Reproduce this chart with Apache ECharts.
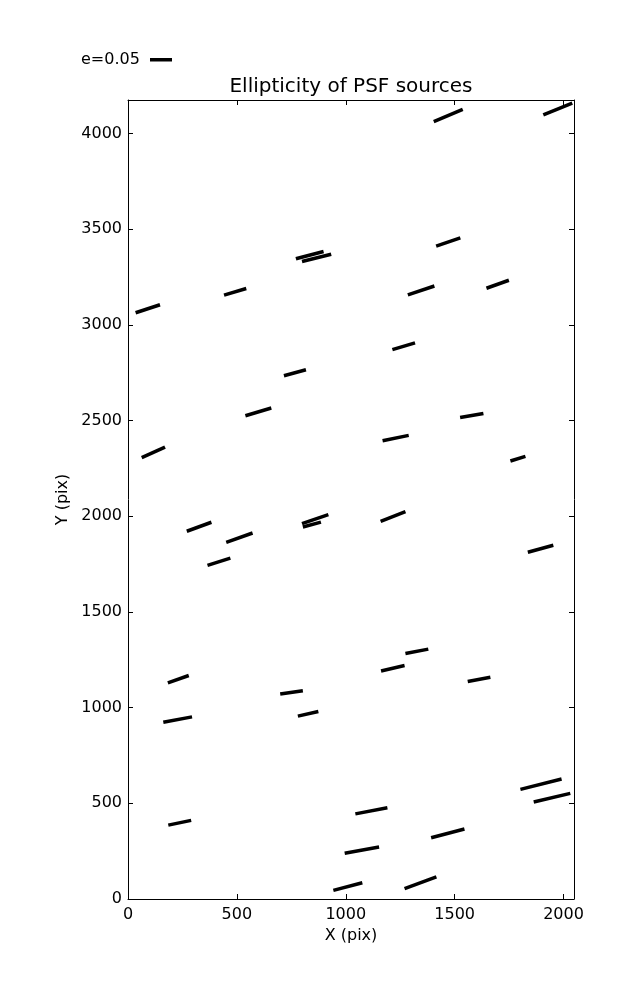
<!DOCTYPE html>
<html>
<head>
<meta charset="utf-8">
<script src="https://cdn.jsdelivr.net/npm/echarts@6/dist/echarts.min.js"></script>
<style>html,body{margin:0;padding:0;background:#fff}#c{width:637px;height:1000px}</style>
</head>
<body>
<div id="c"></div>
<script>
// Segment endpoints (data units, pix)
const segX0 = [1404,1907,771,799,1415,441,1285,1646,35,1214,716,539,1525,1169,63,1756,270,451,365,799,803,1160,1836,1162,1274,183,162,699,780,1560,185,1044,995,1392,943,1270,1802,1863];
const segY0 = [4063,4098,3346,3332,3412,3156,3157,3192,3064,2871,2735,2526,2517,2395,2307,2289,1922,1864,1744,1962,1944,1974,1812,1192,1283,1130,924,1071,956,1137,386,445,239,320,45,54,573,507];
const segX1 = [1537,2040,898,933,1526,543,1407,1749,147,1318,817,658,1632,1289,170,1825,383,572,470,920,886,1274,1953,1270,1379,279,294,803,874,1664,290,1191,1153,1545,1076,1416,1991,2031];
const segY1 = [4127,4160,3384,3370,3455,3191,3204,3234,3106,2907,2766,2566,2538,2423,2362,2313,1969,1913,1782,2009,1970,2025,1849,1220,1306,1168,952,1088,980,1159,411,477,272,366,85,116,627,552];
const xTicks = [0,500,1000,1500,2000];
const yTicks = [0,500,1000,1500,2000,2500,3000,3500,4000];
const legendLabel = 'e=0.05';
const titleText = 'Ellipticity of PSF sources';
const xName = 'X (pix)';
const yName = 'Y (pix)';

const segData = segX0.map((v,i)=>[v, segY0[i], segX1[i], segY1[i]]);
const FONT = 'DejaVu Sans';
const chart = echarts.init(document.getElementById('c'), null, {renderer:'canvas'});

function lbl(ticks){ return function(v){ return ticks.indexOf(v) >= 0 ? String(v) : ''; }; }
function tickStyle(){ return {show:true, inside:true, length:5, lineStyle:{color:'#000', width:1}}; }
function lineStyle(){ return {show:true, onZero:false, lineStyle:{color:'#000', width:1}}; }

chart.setOption({
  animation:false,
  backgroundColor:'#fff',
  graphic:[
    {type:'text', x:351, y:87, style:{text:titleText, fontFamily:FONT, fontSize:20, fill:'#000', align:'center', verticalAlign:'middle'}},
    {type:'text', x:81, y:60, style:{text:legendLabel, fontFamily:FONT, fontSize:16, fill:'#000', align:'left', verticalAlign:'middle'}},
    {type:'rect', shape:{x:150, y:58, width:22, height:3.5}, style:{fill:'#000'}}
  ],
  grid:{left:128, right:63, top:100, bottom:101, containLabel:false},
  xAxis:[
    {type:'value', min:0, max:2048, interval:500, position:'bottom',
     name:xName, nameLocation:'middle', nameGap:17,
     nameTextStyle:{fontFamily:FONT, fontSize:16, color:'#000'},
     axisLine:lineStyle(), axisTick:tickStyle(), splitLine:{show:false},
     axisLabel:{fontFamily:FONT, fontSize:16, color:'#000', margin:8, formatter:lbl(xTicks), showMaxLabel:false}},
    {type:'value', min:0, max:2048, interval:500, position:'top',
     axisLine:lineStyle(), axisTick:tickStyle(), splitLine:{show:false}, axisLabel:{show:false}}
  ],
  yAxis:[
    {type:'value', min:0, max:4176, interval:500, position:'left',
     name:yName, nameLocation:'middle', nameGap:49, nameRotate:90,
     nameTextStyle:{fontFamily:FONT, fontSize:16, color:'#000'},
     axisLine:lineStyle(), axisTick:tickStyle(), splitLine:{show:false},
     axisLabel:{fontFamily:FONT, fontSize:16, color:'#000', margin:6, formatter:lbl(yTicks), showMaxLabel:false}},
    {type:'value', min:0, max:4176, interval:500, position:'right',
     axisLine:lineStyle(), axisTick:tickStyle(), splitLine:{show:false}, axisLabel:{show:false}}
  ],
  series:[{
    type:'custom', name:legendLabel, xAxisIndex:0, yAxisIndex:0, clip:true,
    data:segData,
    renderItem:function(params, api){
      const p0 = api.coord([api.value(0), api.value(1)]);
      const p1 = api.coord([api.value(2), api.value(3)]);
      return {type:'line', shape:{x1:p0[0], y1:p0[1], x2:p1[0], y2:p1[1]},
        style:{stroke:'#000', lineWidth:3.5, lineCap:'butt'}};
    }
  }]
});
</script>
</body>
</html>
